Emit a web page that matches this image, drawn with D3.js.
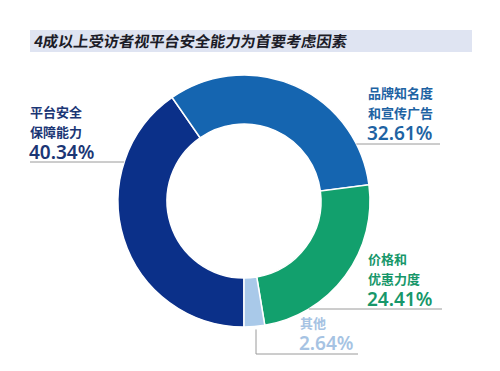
<!DOCTYPE html>
<html>
<head>
<meta charset="utf-8">
<script src="https://cdn.jsdelivr.net/npm/d3@7"></script>
<style>
  html, body { margin: 0; padding: 0; background: #fff; }
  svg text { font-family: "Noto Sans CJK SC", "Noto Sans", sans-serif; }
</style>
</head>
<body>
<div id="chart"></div>
<script>

// data
var title = "4成以上受访者视平台安全能力为首要考虑因素";
var categories = [["平台安全", "保障能力"], ["品牌知名度", "和宣传广告"], ["价格和", "优惠力度"], ["其他"]];
var values = [40.34, 32.61, 24.41, 2.64];
var sliceColors = ["#0b3089", "#1565b0", "#12a06d", "#a9c9e9"];
var textColors = ["#1b3675", "#1e63a3", "#17976a", "#a6c3e3"];

// label placement: text x, first baseline, leader y, leader end x
var labelPos = [
    {x: 30, y: 117, lineY: 162, side: "left", lineEnd: 30},
    {x: 368, y: 98, lineY: 144, side: "right", lineEnd: 440},
    {x: 368, y: 264, lineY: 309, side: "right", lineEnd: 442},
    {x: 300, y: 328, lineY: 354, side: "bottom", lineEnd: 358, lineX: 256}
];

const width = 500, height = 371;
const cx = 244, cy = 201, outerR = 126, innerR = 77;

const svg = d3.select("#chart")
    .append("svg")
    .attr("width", width)
    .attr("height", height);

// title bar
svg.append("rect")
    .attr("x", 30)
    .attr("y", 30)
    .attr("width", 442)
    .attr("height", 22)
    .style("fill", "#dfe4f2");

svg.append("text")
    .attr("x", 34)
    .attr("y", 47)
    .attr("transform", "skewX(-8) translate(6,0)")
    .style("font-size", "15.2px")
    .style("font-weight", "bold")
    .style("fill", "#1c1c28")
    .text(title);

var pie = d3.pie()
    .sort(null)
    .startAngle(Math.PI)
    .endAngle(3 * Math.PI)
    .value(function (d) { return d; });

var arc = d3.arc()
    .innerRadius(innerR)
    .outerRadius(outerR);

var g = svg.append("g")
    .attr("transform", "translate(" + cx + "," + cy + ")");

g.selectAll("path.slice")
    .data(pie(values))
    .enter()
    .append("path")
    .attr("class", "slice")
    .attr("d", arc)
    .style("fill", function (d, i) { return sliceColors[i]; })
    .style("stroke", "#fff")
    .style("stroke-width", "1.5px");

// leader lines, starting on the outer edge of the ring
function edgeX(y, side) {
    var dy = y - cy;
    var dx = Math.sqrt(Math.max(0, outerR * outerR - dy * dy));
    return side === "left" ? cx - dx : cx + dx;
}

labelPos.forEach(function (p, i) {
    var path;
    if (p.side === "bottom") {
        var dx = p.lineX - cx;
        var y0 = cy + Math.sqrt(outerR * outerR - dx * dx);
        path = "M" + p.lineX + "," + (y0 + 3) + "V" + p.lineY + "H" + p.lineEnd;
    } else {
        path = "M" + edgeX(p.lineY, p.side) + "," + p.lineY + "H" + p.lineEnd;
    }
    svg.append("path")
        .attr("d", path)
        .style("fill", "none")
        .style("stroke", "#9a9a9a")
        .style("stroke-width", "1px");

    var lbl = svg.append("g").attr("class", "label");
    categories[i].forEach(function (line, k) {
        lbl.append("text")
            .attr("x", p.x)
            .attr("y", p.y + k * 19.5)
            .style("font-size", "13px")
            .style("font-weight", "bold")
            .style("fill", textColors[i])
            .text(line);
    });
    lbl.append("text")
        .attr("x", p.x - 1)
        .attr("y", p.y + (categories[i].length - 1) * 19.5 + 22)
        .style("font-family", "'Noto Sans', sans-serif")
        .style("font-size", "19px")
        .style("font-weight", "600")
        .style("fill", textColors[i])
        .text(d3.format(".2f")(values[i]) + "%");
});

</script>
</body>
</html>
